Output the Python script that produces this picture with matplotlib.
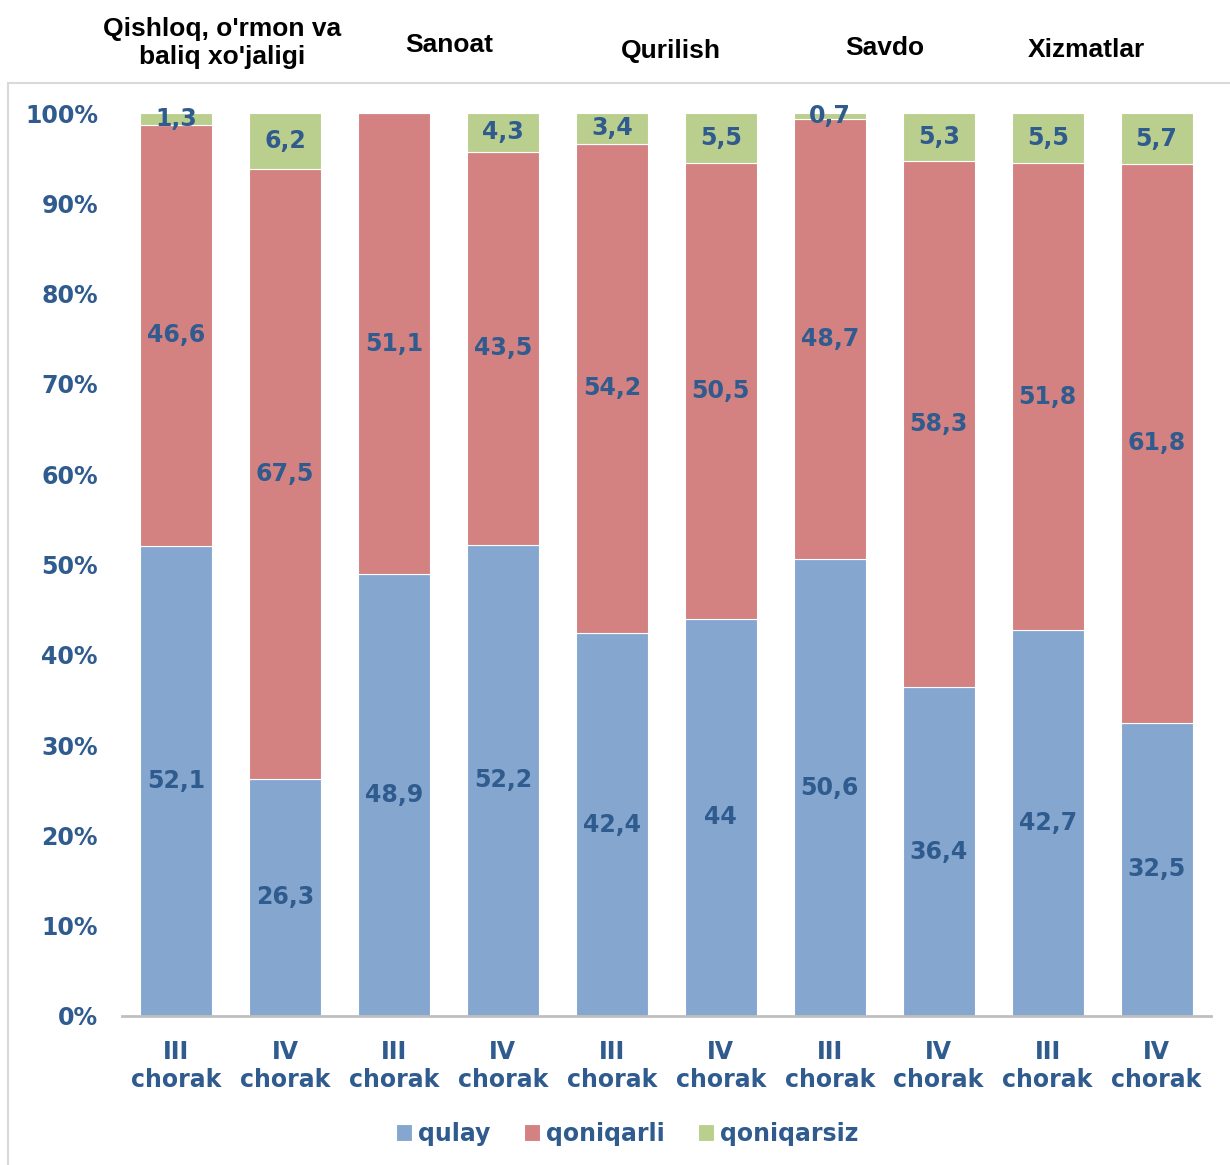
import matplotlib
matplotlib.use("Agg")
import matplotlib.pyplot as plt
from matplotlib.patches import Rectangle
import numpy as np

plt.rcParams['font.family'] = ['DejaVu Sans']

tick_labels = ["III\nchorak", "IV\nchorak"] * 5
sectors = ["Qishloq, o'rmon va\nbaliq xo'jaligi", "Sanoat", "Qurilish", "Savdo", "Xizmatlar"]
qulay = [52.1, 26.3, 48.9, 52.2, 42.4, 44.0, 50.6, 36.4, 42.7, 32.5]
qoniqarli = [46.6, 67.5, 51.1, 43.5, 54.2, 50.5, 48.7, 58.3, 51.8, 61.8]
qoniqarsiz = [1.3, 6.2, 0.0, 4.3, 3.4, 5.5, 0.7, 5.3, 5.5, 5.7]
series_names = ["qulay", "qoniqarli", "qoniqarsiz"]

colors = ["#85A7CF", "#D38181", "#BACF8D"]
text_color = "#2F5B8E"
blue_font = dict(family="DejaVu Sans", weight="bold", size=17)

fig = plt.figure(figsize=(12.3, 11.65), dpi=100)
ax = fig.add_axes([0.0988, 0.1279, 0.8858, 0.7751])

# light gray outer frame
fig.patches.append(Rectangle((8/1230, -0.05), 1.2, (1165-83)/1165 + 0.05,
                             transform=fig.transFigure, fill=False,
                             edgecolor="#D9D9D9", lw=1.5, zorder=0))

x = np.arange(len(tick_labels))
data = [qulay, qoniqarli, qoniqarsiz]
bottom = np.zeros(len(x))
for vals, col, name in zip(data, colors, series_names):
    vals = np.array(vals)
    ax.bar(x, vals, 0.66, bottom=bottom, color=col, edgecolor="white",
           linewidth=0.8, label=name, zorder=2)
    for xi, b, v in zip(x, bottom, vals):
        if v > 0:
            lbl = ("%g" % v).replace(".", ",")
            ax.text(xi, b + v / 2, lbl, ha="center", va="center",
                    color=text_color, fontdict=blue_font, zorder=3)
    bottom += vals

ax.set_xlim(-0.5, 9.5)
ax.set_ylim(0, 100)
ax.set_yticks(np.arange(0, 101, 10))
ax.set_yticklabels([f"{v}%" for v in range(0, 101, 10)])
ax.set_xticks(x)
ax.set_xticklabels(tick_labels, linespacing=1.25)
for lab in ax.get_xticklabels() + ax.get_yticklabels():
    lab.set_color(text_color)
    lab.set_fontsize(17)
    lab.set_fontweight("bold")
    lab.set_family("DejaVu Sans")
ax.tick_params(axis="both", length=0)
ax.tick_params(axis="x", pad=17)
ax.tick_params(axis="y", pad=17)
for s in ["top", "right", "left"]:
    ax.spines[s].set_visible(False)
ax.spines["bottom"].set_color("#BFBFBF")
ax.spines["bottom"].set_linewidth(2)

# sector headers
header_x = [0.42, 2.51, 4.54, 6.50, 8.35]
header_y = [43, 45, 51, 48, 50]
for sx, sy, name in zip(header_x, header_y, sectors):
    fig.text((121.5 + (sx + 0.5) * 109) / 1230, 1 - sy / 1165, name,
             ha="center", va="center", fontsize=19, fontweight="bold",
             family=["Liberation Sans", "DejaVu Sans"],
             color="black", linespacing=1.2)

leg = fig.legend(loc="center", bbox_to_anchor=(0.51, 1 - 1134/1165), ncol=3,
                 frameon=False, handlelength=0.7, handleheight=0.7,
                 handletextpad=0.25, columnspacing=1.4,
                 prop={"weight": "bold", "size": 17, "family": "DejaVu Sans"})
for t in leg.get_texts():
    t.set_color(text_color)

fig.savefig("out.png", dpi=100)
